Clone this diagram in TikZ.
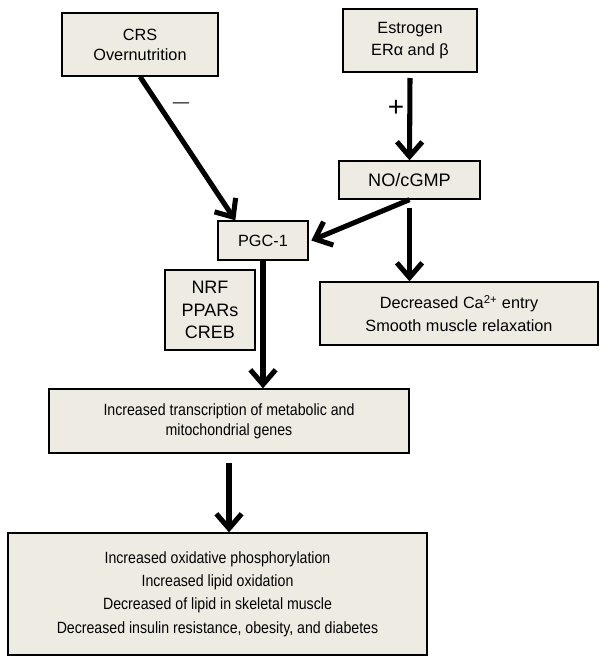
\documentclass[tikz,border=0pt]{standalone}
\usepackage{fontspec}
\setmainfont{Liberation Sans}
\newfontfamily\narrowfont[FakeStretch=0.87]{Liberation Sans}
\usetikzlibrary{arrows.meta}
\definecolor{boxfill}{RGB}{238,236,226}

\begin{document}
\begin{tikzpicture}[x=0.75pt, y=-0.75pt,
	box/.style={draw, line width=1pt, fill=boxfill, align=center, inner sep=0pt, font=\fontsize{12.2}{15}\selectfont},
	wide/.style={font=\fontsize{12.2}{17}\selectfont},
	narrow/.style={font=\narrowfont\fontsize{12.2}{15}\selectfont},
	arr/.style={line width=3.8pt, -{Straight Barb[length=11pt,width=19pt]}}]

\def\width{609}
\def\height{665}

\path [use as bounding box] (0,0) rectangle (\width,\height);

% BOXES
\node [box, minimum width=117pt, minimum height=47.25pt] (crs) at (140,44.5) {CRS\\Overnutrition};
\node [box, font=\fontsize{12.2}{16.5}\selectfont, minimum width=100.5pt, minimum height=47.25pt] (estr) at (410,40.5) {Estrogen\\ERα and β};
\node [box, font=\fontsize{13.6}{15}\selectfont, minimum width=105.75pt, minimum height=28.5pt] (no) at (409.5,180) {NO/cGMP};
\node [box, minimum width=67.5pt, minimum height=29.25pt] (pgc) at (263,240.5) {PGC-1};
\node [box, font=\fontsize{13.5}{17}\selectfont, minimum width=67.5pt, minimum height=60pt] (nrf) at (210,310) {NRF\\PPARs\\CREB};
\node [box, wide, minimum width=208.5pt, minimum height=47.25pt] (ca) at (459,313.5) {Decreased Ca\textsuperscript{2+} entry\\Smooth muscle relaxation};
\node [box, narrow, minimum width=270pt, minimum height=48pt] (trans) at (229,421) {Increased transcription of metabolic and\\mitochondrial genes};
\node [box, font=\narrowfont\fontsize{12.2}{17.5}\selectfont, minimum width=314.25pt, minimum height=91.5pt] (final) at (217.5,594) {Increased oxidative phosphorylation\\Increased lipid oxidation\\Decreased of lipid in skeletal muscle\\Decreased insulin resistance, obesity, and diabetes};

% SIGNS
\node [font=\fontsize{12.2}{12}\selectfont] (minus) at (181,105) {---};
\node [font=\fontsize{21}{21}\selectfont] (plus) at (396,108) {+};

% ARROWS
\draw [arr] (crs.south) -- ([xshift=13.5pt]pgc.north west);
\draw [arr] ([yshift=-4pt]estr.south) -- (no.north);
\draw [arr] (no.south) -- ([xshift=2pt]pgc.east);
\draw [arr] ([yshift=-6pt]no.south) -- (no.south |- ca.north);
\draw [arr] (pgc.south) -- (pgc.south |- trans.north);
\draw [arr] ([yshift=-7pt]trans.south) -- (trans.south |- final.north);

\end{tikzpicture}
\end{document}
